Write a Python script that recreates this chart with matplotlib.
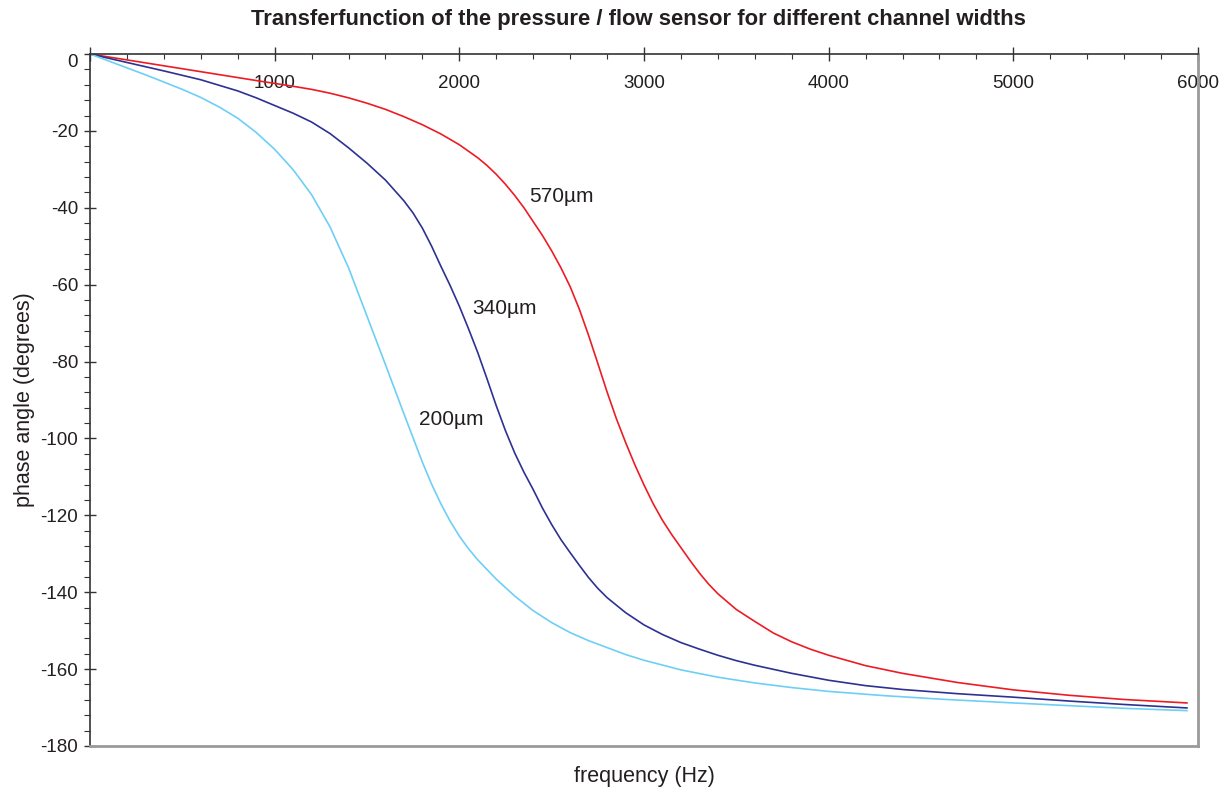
import matplotlib.pyplot as plt
from matplotlib.ticker import MultipleLocator

plt.rcParams['font.family'] = ['Liberation Sans', 'DejaVu Sans']
plt.rcParams['axes.unicode_minus'] = False

# 570 um channel
f_570 = [0, 300, 600, 900, 1100, 1200, 1300, 1400, 1500, 1600, 1700, 1800, 1900,
         2000, 2100, 2150, 2200, 2250, 2300, 2350, 2400, 2450, 2500, 2550, 2600,
         2650, 2700, 2750, 2800, 2850, 2900, 2950, 3000, 3050, 3100, 3150, 3200,
         3250, 3300, 3350, 3400, 3500, 3600, 3700, 3800, 3900, 4000, 4200, 4400,
         4700, 5000, 5300, 5600, 5940]
ph_570 = [0, -2.3, -4.6, -6.9, -8.4, -9.2, -10.2, -11.4, -12.8, -14.4, -16.3,
          -18.4, -20.8, -23.6, -27.0, -29.0, -31.3, -33.9, -36.8, -40.0, -43.6,
          -47.2, -51.2, -55.6, -60.5, -66.4, -73.2, -80.5, -87.9, -94.8, -101.0,
          -106.8, -112.1, -117.0, -121.3, -125.0, -128.4, -131.8, -135.0, -137.9,
          -140.4, -144.5, -147.6, -150.6, -152.9, -154.8, -156.4, -159.1, -161.1,
          -163.5, -165.4, -166.8, -167.9, -168.8]

# 340 um channel
f_340 = [0, 200, 400, 600, 800, 900, 1000, 1100, 1200, 1300, 1400, 1500, 1600,
         1700, 1750, 1800, 1850, 1900, 1950, 2000, 2050, 2100, 2150, 2200, 2250,
         2300, 2350, 2400, 2450, 2500, 2550, 2600, 2650, 2700, 2750, 2800, 2900,
         3000, 3100, 3200, 3300, 3400, 3500, 3600, 3800, 4000, 4200, 4400, 4700,
         5000, 5300, 5600, 5940]
ph_340 = [0, -2.2, -4.4, -6.7, -9.6, -11.4, -13.4, -15.4, -17.7, -20.7, -24.4,
          -28.4, -32.8, -38.2, -41.4, -45.3, -50.0, -55.2, -60.2, -65.6, -71.5,
          -77.7, -84.5, -91.5, -98.0, -103.8, -108.8, -113.3, -118.1, -122.4,
          -126.3, -129.7, -133.0, -136.2, -139.0, -141.4, -145.3, -148.5, -151.0,
          -153.1, -154.8, -156.4, -157.8, -159.0, -161.1, -162.9, -164.3, -165.3,
          -166.4, -167.3, -168.3, -169.2, -170.1]

# 200 um channel
f_200 = [0, 100, 200, 300, 400, 500, 600, 700, 800, 900, 1000, 1100, 1200, 1300,
         1400, 1500, 1600, 1700, 1800, 1850, 1900, 1950, 2000, 2050, 2100, 2200,
         2300, 2400, 2500, 2600, 2700, 2800, 2900, 3000, 3200, 3400, 3600, 3800,
         4000, 4300, 4600, 5000, 5300, 5600, 5940]
ph_200 = [0, -1.8, -3.6, -5.4, -7.3, -9.2, -11.3, -13.8, -16.7, -20.4, -24.8,
          -30.1, -36.6, -45.0, -55.6, -68.2, -80.8, -93.6, -106.2, -111.9, -117.0,
          -121.5, -125.4, -128.7, -131.6, -136.6, -141.0, -144.8, -147.9, -150.5,
          -152.6, -154.4, -156.2, -157.7, -160.2, -162.1, -163.6, -164.8, -165.8,
          -166.9, -167.8, -168.8, -169.5, -170.2, -170.8]

series = [(f_570, ph_570, '#ED1C24'), (f_340, ph_340, '#2E3192'), (f_200, ph_200, '#6DCFF6')]

curve_labels = ['570µm', '340µm', '200µm']
label_f = [2377, 2072, 1783]
label_ph = [-37.1, -66.1, -95.1]

x_ticks = [0, 1000, 2000, 3000, 4000, 5000, 6000]
x_ticklabels = ['', '1000', '2000', '3000', '4000', '5000', '6000']
y_ticks = list(range(-180, 1, 20))

ink = '#231F20'

fig = plt.figure(figsize=(12.31, 7.87), dpi=100)
ax = fig.add_axes([90 / 1231, 41 / 787, 1108 / 1231, 692 / 787])

for f, ph, c in series:
    ax.plot(f, ph, color=c, lw=1.2)

for txt, fx, py in zip(curve_labels, label_f, label_ph):
    ax.text(fx, py, txt, fontsize=15, color=ink, ha='left', va='center')

ax.set_xlim(0, 6000)
ax.set_ylim(-180, 0)

ax.xaxis.tick_top()
ax.set_xticks(x_ticks, labels=x_ticklabels)
ax.xaxis.set_minor_locator(MultipleLocator(200))
ax.set_yticks(y_ticks)
ax.yaxis.set_minor_locator(MultipleLocator(4))

ax.tick_params(axis='x', which='major', direction='inout', length=9.5, width=1,
               pad=-32, labelsize=13.5, labelcolor=ink, color='#333333')
ax.tick_params(axis='x', which='minor', direction='in', length=3.6, width=0.8, color='#333333')
ax.tick_params(axis='y', which='major', direction='inout', length=9, width=1,
               pad=4, labelsize=13.5, labelcolor=ink, color='#333333')
ax.tick_params(axis='y', which='minor', direction='out', length=4, width=0.8, color='#333333')

# the 0 label sits just below the top axis
ax.get_yticklabels()[-1].set_va('top')

for side in ['top', 'left']:
    ax.spines[side].set_color('#333333')
    ax.spines[side].set_linewidth(1.2)
for side in ['right', 'bottom']:
    ax.spines[side].set_color('#9A9A9A')
    ax.spines[side].set_linewidth(2)

ax.xaxis.set_label_position('bottom')
ax.set_xlabel('frequency (Hz)', fontsize=15.5, color=ink, labelpad=14.5)
ax.set_ylabel('phase angle (degrees)', fontsize=15.5, color=ink, labelpad=4)

fig.text(0.519, 1 - 19 / 787, 'Transferfunction of the pressure / flow sensor for different channel widths',
         ha='center', va='center', fontsize=15.8, fontweight='bold', color=ink)

fig.savefig('out.png', dpi=100)
